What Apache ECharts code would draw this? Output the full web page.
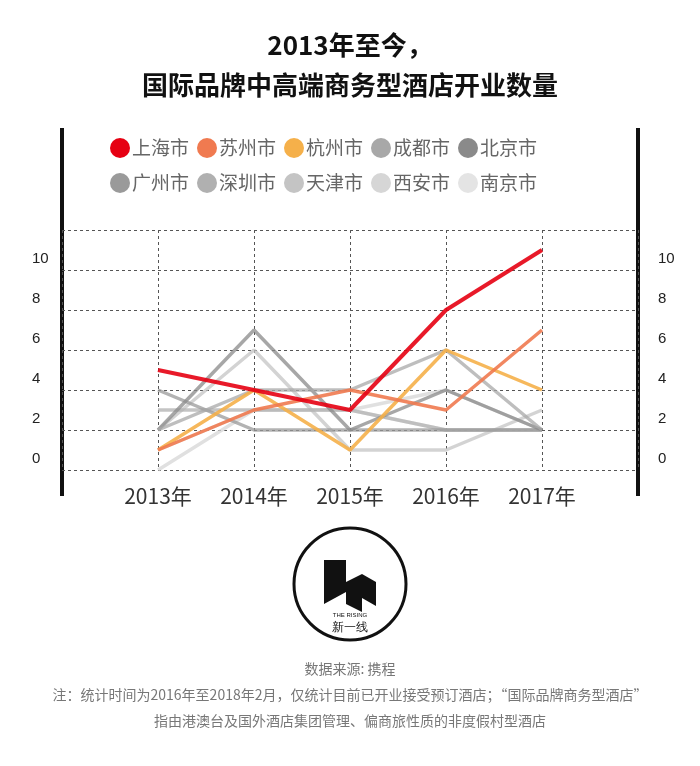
<!DOCTYPE html><html><head><meta charset="utf-8"><script src="https://cdn.jsdelivr.net/npm/echarts@6/dist/echarts.min.js"></script>
<style>body{margin:0;background:#fff}#c{width:700px;height:766px}</style></head><body><div id="c"></div><script>
const years=[2013,2014,2015,2016,2017];
const cities=['上海市','苏州市','杭州市','成都市','北京市','广州市','深圳市','天津市','西安市','南京市'];
const colors=['#e60012','#f07a50','#f5b04a','#a8a8a8','#8a8a8a','#9a9a9a','#b0b0b0','#c4c4c4','#d6d6d6','#e4e4e4'];
const shanghai=[5,4,3,8,11];
const suzhou=[1,3,4,3,7];
const hangzhou=[1,4,1,6,4];
const chengdu=[2,4,4,6,2];
const beijing=[2,7,2,4,2];
const guangzhou=[4,2,2,2,2];
const shenzhen=[3,3,3,2,2];
const tianjin=[2,6,1,1,3];
const xian=[0,3,3,4,2];
const nanjing=[1,3,3,2,2];
const values=[shanghai,suzhou,hangzhou,chengdu,beijing,guangzhou,shenzhen,tianjin,xian,nanjing];
const yTicks=[0,2,4,6,8,10];
const ch=echarts.init(document.getElementById('c'));
const F='"Noto Sans CJK SC","Noto Sans",sans-serif';
const series=cities.map((c,i)=>({name:c,type:'line',symbol:'none',z:20-i,data:years.map((y,j)=>[y,values[i][j]]),
 lineStyle:{width:i==0?4:3.5,color:colors[i],opacity:i<3?0.9:0.75},itemStyle:{color:colors[i]}}));
const lg=(data,top)=>({data,top,left:105,icon:'circle',itemWidth:20,itemHeight:20,itemGap:8,textStyle:{fontSize:19,color:'#666',fontFamily:F,padding:[0,0,0,-3]}});
ch.setOption({
 animation:false,
 title:{text:'2013年至今，\n国际品牌中高端商务型酒店开业数量',left:'center',top:20,textStyle:{fontSize:26,fontWeight:'bold',color:'#111',lineHeight:40,fontFamily:F}},
 legend:[lg(cities.slice(0,5),133),lg(cities.slice(5),168)],
 grid:{left:62,right:62,top:230,height:240},
 xAxis:{type:'value',min:2012,max:2018,interval:1,axisLine:{show:false},axisTick:{show:false},
  splitLine:{lineStyle:{type:[3,3],color:'#555'}},
  axisLabel:{margin:16,fontSize:21,color:'#333',fontFamily:F,formatter:v=>years.includes(v)?v+'年':''}},
 yAxis:[0,1].map(k=>({type:'value',min:0,max:12,interval:2,position:k?'right':'left',axisLine:{show:false},axisTick:{show:false},
  splitLine:{show:k==0,lineStyle:{type:[3,3],color:'#555'}},
  axisLabel:{inside:true,verticalAlign:'bottom',margin:k?-20:-30,align:'left',fontSize:15,color:'#222',padding:[0,0,4,0],
   formatter:v=>yTicks.includes(v)?String(v):''}})),
 series,
 graphic:[
  {type:'rect',shape:{x:60,y:128,width:4,height:368},style:{fill:'#111'}},
  {type:'rect',shape:{x:636,y:128,width:4,height:368},style:{fill:'#111'}},
  {type:'circle',shape:{cx:350,cy:584,r:56},style:{fill:'#fff',stroke:'#111',lineWidth:3}},
  {type:'polygon',shape:{points:[[324,560],[346,560],[346,582],[362,574],[376,582],[376,606],[362,598],[362,612],[346,604],[346,592],[324,604]]},style:{fill:'#111'}},
  {type:'text',style:{text:'THE RISING',x:350,y:612,fontSize:6,fill:'#111',align:'center'}},
  {type:'text',style:{text:'新一线',x:350,y:622,fontSize:12,fill:'#111',align:'center',font:'12px '+F}},
  {type:'text',style:{text:'数据来源: 携程',x:350,y:662,align:'center',fill:'#777',font:'14px '+F}},
  {type:'text',style:{text:'注：统计时间为2016年至2018年2月，仅统计目前已开业接受预订酒店；“国际品牌商务型酒店”',x:350,y:688,align:'center',fill:'#777',font:'14px '+F}},
  {type:'text',style:{text:'指由港澳台及国外酒店集团管理、偏商旅性质的非度假村型酒店',x:350,y:714,align:'center',fill:'#777',font:'14px '+F}}
 ]
});
</script></body></html>
